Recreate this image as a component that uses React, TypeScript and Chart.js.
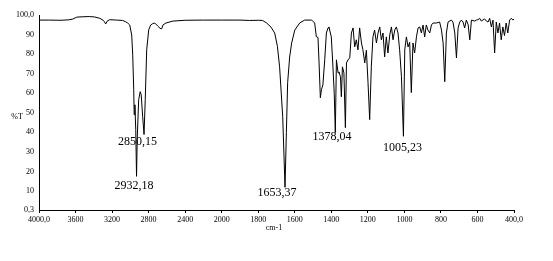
import React, { useEffect, useRef } from "react";
import { Chart, registerables } from "chart.js";

Chart.register(...registerables);

// Infrared transmission spectrum: [wavenumber (cm-1), %T]
const spectrumHigh: [number, number][] = [
  [4000, 97.4], [3900, 97.4], [3760, 97.3], [3680, 97.5], [3631, 97.9],
  [3587, 98.9], [3520, 99.1], [3450, 99.2], [3390, 99.0], [3335, 98.3],
  [3300, 97.4], [3285, 96.6], [3270, 95.4], [3255, 96.8], [3226, 97.6],
  [3150, 97.4], [3084, 97.2], [3050, 96.5], [3029, 95.9], [3007, 94.9],
  [2985, 89.8], [2974, 79.6], [2963, 61.8], [2958, 49.0], [2950, 54.1],
  [2941, 41.4], [2932.18, 17.5], [2925, 36.3], [2909, 56.7], [2892, 60.8],
  [2881, 59.2], [2865, 48.0], [2850.15, 38.9], [2837, 56.7], [2821, 82.2],
  [2799, 92.4], [2777, 94.9], [2755, 95.6], [2733, 95.9], [2701, 94.4],
  [2675, 93.2], [2657, 92.9], [2643, 94.9], [2610, 95.9], [2534, 96.9],
  [2400, 97.3], [2200, 97.4], [2000, 97.4],
];

const spectrumCarbonyl: [number, number][] = [
  [1900, 97.4], [1847, 97.2], [1800, 97.3], [1776, 97.2], [1754, 95.9],
  [1730, 93.8], [1710, 90.8], [1695, 84.0], [1683, 73.5], [1666, 48.0],
  [1653.37, 11.9], [1646, 39.9], [1639, 65.4], [1628, 78.5], [1617, 85.7],
  [1600, 92.3], [1573, 95.9], [1546, 97.4], [1507, 97.4],
];

const spectrumFingerprint: [number, number][] = [
  [1491, 95.9], [1482, 88.9], [1473, 88.5], [1467, 75.5], [1460, 57.7],
  [1454, 61.8], [1446, 64.3], [1436, 77.1], [1427, 90.8], [1418, 93.4],
  [1413, 93.9], [1400, 88.8], [1391, 73.5], [1384, 60.0], [1378.04, 39.9],
  [1372, 77.1], [1363, 70.4], [1358, 70.9], [1350, 68.4], [1345, 58.2],
  [1339, 73.5], [1331, 70.4], [1323, 42.4], [1317, 75.5], [1309, 77.0],
  [1299, 78.1], [1290, 90.8], [1281, 93.4], [1272, 83.7], [1263, 87.3],
  [1254, 82.2], [1245, 93.4], [1235, 85.7], [1227, 82.2], [1217, 75.5],
  [1208, 82.0], [1199, 65.4], [1190, 46.5], [1181, 73.5], [1172, 88.8],
  [1163, 92.3], [1153, 85.7], [1144, 90.8], [1135, 93.9], [1126, 87.3],
  [1117, 90.8], [1108, 78.6], [1099, 88.8], [1090, 80.6], [1080, 89.8],
  [1071, 93.9], [1062, 87.3], [1053, 92.3], [1044, 93.9], [1035, 90.8],
  [1026, 82.2], [1016, 68.4], [1005.23, 38.0], [998, 82.2], [989, 88.8],
  [980, 83.7], [971, 86.0], [962, 60.3], [953, 85.7], [944, 80.6],
  [934, 88.8], [925, 93.4], [916, 93.9], [907, 90.8], [898, 94.9],
  [889, 88.8], [880, 94.9], [871, 92.3], [861, 90.8], [852, 94.9],
  [843, 95.9], [825, 95.9], [807, 96.4],
];

const spectrumLow: [number, number][] = [
  [797, 92.3], [788, 85.7], [779, 65.9], [770, 90.8], [761, 96.4],
  [743, 97.4], [734, 96.4], [724, 90.8], [715, 78.1], [706, 93.4],
  [697, 96.4], [688, 97.4], [679, 96.4], [670, 93.4], [661, 97.4],
  [651, 95.0], [642, 87.3], [633, 97.4], [615, 96.9], [606, 97.4],
  [597, 97.6], [588, 98.3], [579, 96.9], [561, 98.0], [551, 96.9],
  [542, 96.4], [533, 98.3], [524, 93.9], [515, 97.4], [506, 80.6],
  [497, 96.4], [488, 90.8], [479, 95.9], [470, 87.3], [461, 93.9],
  [452, 89.5], [443, 95.9], [434, 90.8], [424, 97.4], [415, 98.3],
  [406, 97.4], [400, 97.9],
];

// Wavenumber axis ticks (the scale doubles below 2000 cm-1)
const wavenumberTicks = [4000, 3600, 3200, 2800, 2400, 2000, 1800, 1600, 1400, 1200, 1000, 800, 600, 400];
const wavenumberTickLabels = ["4000,0", "3600", "3200", "2800", "2400", "2000", "1800", "1600", "1400", "1200", "1000", "800", "600", "400,0"];

// Transmittance axis ticks
const transmittanceTicks = [0.3, 10, 20, 30, 40, 50, 60, 70, 80, 90, 100];
const transmittanceTickLabels = ["0,3", "10", "20", "30", "40", "50", "60", "70", "80", "90", "100,0"];

// Annotated absorption maxima
const peakWavenumbers = [2932.18, 2850.15, 1653.37, 1378.04, 1005.23];
const peakTransmittance = [17.5, 38.9, 11.9, 39.9, 38.0];

// Pixel nudges for the peak captions relative to the band minimum
const peakCaptionNudge: [number, number][] = [
  [-2.5, 9.5], [-6.5, 7], [-8, 5.5], [-3.3, 4.5], [-1, 12],
];

const SERIF = '"Liberation Serif", "Times New Roman", serif';

// Piecewise axis position: 400 cm-1 per division above 2000, 200 cm-1 per division below
function toAxis(w: number): number {
  return w >= 2000 ? (4000 - w) / 400 : 5 + (2000 - w) / 200;
}

function formatWavenumber(w: number): string {
  return w.toFixed(2).replace(".", ",");
}

export default function App() {
  const canvasRef = useRef<HTMLCanvasElement>(null);

  useEffect(() => {
    const canvas = canvasRef.current;
    if (!canvas) return;

    const spectrum = [...spectrumHigh, ...spectrumCarbonyl, ...spectrumFingerprint, ...spectrumLow]
      .map(([w, t]) => ({ x: toAxis(w), y: t }));

    const captions = {
      id: "spectrumCaptions",
      afterDatasetsDraw(chart: any) {
        const { ctx, chartArea, scales } = chart;
        const xs = scales.x;
        const ys = scales.y;
        ctx.save();
        ctx.fillStyle = "#000";
        ctx.textAlign = "center";
        ctx.textBaseline = "middle";
        ctx.font = `12px ${SERIF}`;
        peakWavenumbers.forEach((w, i) => {
          const px = xs.getPixelForValue(toAxis(w)) + peakCaptionNudge[i][0];
          const py = ys.getPixelForValue(peakTransmittance[i]) + peakCaptionNudge[i][1];
          ctx.fillText(formatWavenumber(w), px, py);
        });
        ctx.font = `8px ${SERIF}`;
        ctx.fillText("%T", 17, (chartArea.top + chartArea.bottom) / 2 + 4);
        ctx.fillText("cm-1", (chartArea.left + chartArea.right) / 2 - 2.5, chartArea.bottom + 18);
        ctx.restore();
      },
    };

    const chart = new Chart(canvas, {
      type: "line",
      data: {
        datasets: [
          {
            data: spectrum,
            borderColor: "#000",
            borderWidth: 1,
            pointRadius: 0,
            tension: 0,
            fill: false,
          },
        ],
      },
      options: {
        animation: false,
        responsive: false,
        events: [],
        parsing: false,
        layout: { padding: { top: 15, right: 39, left: 0, bottom: 0 } },
        plugins: {
          legend: { display: false },
          tooltip: { enabled: false },
          title: { display: false },
        },
        scales: {
          x: {
            type: "linear",
            min: 0,
            max: toAxis(400),
            afterBuildTicks: (s: any) => {
              s.ticks = wavenumberTicks.map((w) => ({ value: toAxis(w) }));
            },
            afterFit: (s: any) => {
              s.height = 51;
            },
            ticks: {
              callback: (_v: any, i: number) => wavenumberTickLabels[i],
              font: { family: SERIF, size: 8 },
              color: "#000",
              padding: 2,
              maxRotation: 0,
              autoSkip: false,
            },
            grid: {
              display: true,
              drawOnChartArea: false,
              drawTicks: true,
              tickLength: 3,
              color: "#000",
              lineWidth: 1,
            },
            border: { display: true, color: "#000", width: 1 },
          },
          y: {
            type: "linear",
            min: 0.3,
            max: 100,
            afterBuildTicks: (s: any) => {
              s.ticks = transmittanceTicks.map((v) => ({ value: v }));
            },
            afterFit: (s: any) => {
              s.width = 39;
            },
            ticks: {
              callback: (_v: any, i: number) => transmittanceTickLabels[i],
              font: { family: SERIF, size: 8 },
              color: "#000",
              padding: 5,
              autoSkip: false,
            },
            grid: { display: false, drawTicks: false },
            border: { display: true, color: "#000", width: 1 },
          },
        },
      },
      plugins: [captions],
    } as any);

    return () => chart.destroy();
  }, []);

  return (
    <div style={{ position: "absolute", left: 0, top: 0, width: 553, height: 261, background: "#fff" }}>
      <canvas ref={canvasRef} width={553} height={261} style={{ display: "block" }} />
    </div>
  );
}
